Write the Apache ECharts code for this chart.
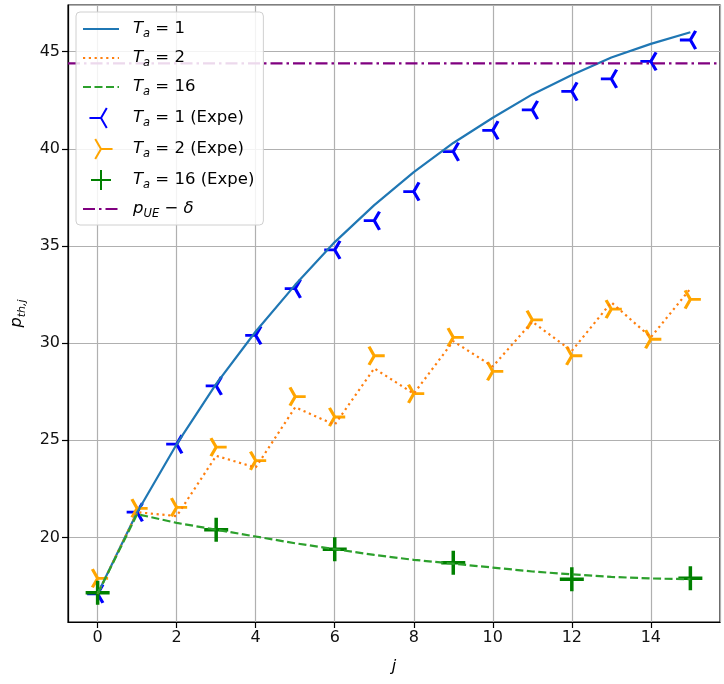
<!DOCTYPE html>
<html lang="en">
<head>
  <meta charset="UTF-8">
  <title>p_th,j vs j</title>
  <script src="https://cdn.jsdelivr.net/npm/echarts@6/dist/echarts.min.js"></script>
  <style>
    html, body { margin: 0; padding: 0; background: #fff; }
    #chart { width: 724px; height: 684px; }
  </style>
</head>
<body>
  <div id="chart"></div>
  <script>
    // data
    const j = [0, 1, 2, 3, 4, 5, 6, 7, 8, 9, 10, 11, 12, 13, 14, 15]
    const theoryTa1 = [17.1, 21.3, 24.8, 27.9, 30.6, 33.0, 35.2, 37.1, 38.8, 40.3, 41.6, 42.8, 43.8, 44.7, 45.4, 46.0]
    const theoryTa2 = [17.1, 21.3, 21.1, 24.2, 23.6, 26.7, 25.8, 28.7, 27.4, 30.1, 28.8, 31.1, 29.6, 32.1, 30.3, 32.8]
    const theoryTa16 = [17.1, 21.2, 20.75, 20.4, 20.05, 19.7, 19.4, 19.1, 18.85, 18.65, 18.45, 18.25, 18.1, 17.97, 17.89, 17.85]
    const expeTa1 = [17.1, 21.3, 24.8, 27.8, 30.4, 32.8, 34.8, 36.3, 37.8, 39.85, 40.95, 42.0, 42.95, 43.6, 44.5, 45.6]
    const expeTa2 = [17.9, 21.5, 21.55, 24.65, 23.95, 27.25, 26.2, 29.35, 27.4, 30.3, 28.55, 31.2, 29.35, 31.75, 30.2, 32.25]
    const jTa16 = [0, 3, 6, 9, 12, 15]
    const expeTa16 = [17.15, 20.4, 19.4, 18.7, 17.85, 17.9]
    const threshold = 44.4
    const xRange = [-0.75, 15.75]
    const yRange = [15.65, 47.4]

    const pairs = (xs, ys) => xs.map((x, i) => [x, ys[i]])

    // matplotlib-like markers: tri_left, tri_right, plus
    const triLeft = 'path://M-10 0L0 0M0 0L5 -8.66M0 0L5 8.66M10 0'
    const triRight = 'path://M10 0L0 0M0 0L-5 -8.66M0 0L-5 8.66M-10 0'
    const plus = 'path://M-12 0L12 0M0 -12L0 12'
    // draws nothing; keeps the legend icon a plain line
    const noMark = 'path://M0 0M10 10'

    const font = 'DejaVu Sans'
    const rich = {
      i: { fontFamily: font, fontStyle: 'italic', fontSize: 16.5, color: '#000', lineHeight: 22 },
      s: { fontFamily: font, fontStyle: 'italic', fontSize: 11.5, color: '#000', lineHeight: 22, verticalAlign: 'bottom' },
      n: { fontFamily: font, fontSize: 16.5, color: '#000', lineHeight: 22 }
    }
    const nameRich = {
      i: { fontFamily: font, fontStyle: 'italic', fontSize: 16, color: '#000', lineHeight: 22 },
      s: { fontFamily: font, fontStyle: 'italic', fontSize: 11, color: '#000', lineHeight: 22, verticalAlign: 'bottom' }
    }
    const names = {
      t1: 'T_a = 1', t2: 'T_a = 2', t16: 'T_a = 16',
      e1: 'T_a = 1 (Expe)', e2: 'T_a = 2 (Expe)', e16: 'T_a = 16 (Expe)',
      thr: 'p_UE - δ'
    }
    function legendLabel(name) {
      if (name === names.thr) return '{i|p}{s|UE}{n| − }{i|δ}'
      return '{i|T}{s|a}{n|' + name.slice(3) + '}'
    }
    function lineSeries(name, data, color, type) {
      return {
        name: name, type: 'line', data: data, symbol: noMark, showSymbol: false,
        lineStyle: { color: color, width: 2.2, type: type },
        itemStyle: { color: color, borderColor: color, borderWidth: 7 }
      }
    }

    const chart = echarts.init(document.getElementById('chart'))
    chart.setOption({
      animation: false,
      backgroundColor: '#fff',
      grid: { left: 68, right: 4, top: 5, bottom: 62, show: true, borderColor: '#000', borderWidth: 1.2, backgroundColor: 'transparent' },
      legend: {
        left: 76, top: 12,
        orient: 'vertical',
        backgroundColor: 'rgba(255,255,255,0.85)',
        borderColor: '#d0d0d0', borderWidth: 1, borderRadius: 4,
        padding: [8, 9, 5, 6],
        itemWidth: 36, itemHeight: 20, itemGap: 9,
        data: [names.t1, names.t2, names.t16, names.e1, names.e2, names.e16, names.thr],
        formatter: legendLabel,
        textStyle: { rich: rich, fontFamily: font, fontSize: 16.5, padding: [0, 0, 0, 9] }
      },
      xAxis: {
        type: 'value', min: xRange[0], max: xRange[1], splitNumber: 8,
        name: 'j', nameLocation: 'middle', nameGap: 37,
        nameTextStyle: { fontFamily: font, fontStyle: 'italic', fontSize: 16, color: '#000' },
        axisLine: { show: true, onZero: false, lineStyle: { color: '#000', width: 1.2 } },
        axisTick: { show: true, length: 6, lineStyle: { color: '#000', width: 1.2 } },
        axisLabel: { fontFamily: font, fontSize: 16, color: '#111', margin: 8, showMinLabel: false, showMaxLabel: false },
        splitLine: { show: true, lineStyle: { color: '#b0b0b0', width: 1.2 } }
      },
      yAxis: {
        type: 'value', min: yRange[0], max: yRange[1], splitNumber: 6,
        name: '{i|p}{s|th,j}', nameLocation: 'middle', nameGap: 40, nameRotate: 90,
        nameTextStyle: { rich: nameRich },
        axisLine: { show: true, onZero: false, lineStyle: { color: '#000', width: 1.2 } },
        axisTick: { show: true, length: 6, lineStyle: { color: '#000', width: 1.2 } },
        axisLabel: { fontFamily: font, fontSize: 16, color: '#111', margin: 8, showMinLabel: false, showMaxLabel: false },
        splitLine: { show: true, lineStyle: { color: '#b0b0b0', width: 1.2 } }
      },
      series: [
        lineSeries(names.t1, pairs(j, theoryTa1), '#1f77b4', 'solid'),
        lineSeries(names.t2, pairs(j, theoryTa2), '#ff7f0e', [2.2, 3.6]),
        lineSeries(names.t16, pairs(j, theoryTa16), '#2ca02c', [8, 3.5]),
        {
          name: names.e1, type: 'scatter', data: pairs(j, expeTa1),
          symbol: triLeft, symbolSize: [21, 18.2],
          itemStyle: { color: 'blue', borderColor: 'blue', borderWidth: 3, opacity: 1 }
        },
        {
          name: names.e2, type: 'scatter', data: pairs(j, expeTa2),
          symbol: triRight, symbolSize: [21, 18.2],
          itemStyle: { color: 'orange', borderColor: 'orange', borderWidth: 3, opacity: 1 }
        },
        {
          name: names.e16, type: 'scatter', data: pairs(jTa16, expeTa16),
          symbol: plus, symbolSize: 24,
          itemStyle: { color: 'green', borderColor: 'green', borderWidth: 3.5, opacity: 1 }
        },
        lineSeries(names.thr, [[xRange[0], threshold], [xRange[1], threshold]], 'purple', [12, 4, 2.5, 4])
      ]
    })
  </script>
</body>
</html>
